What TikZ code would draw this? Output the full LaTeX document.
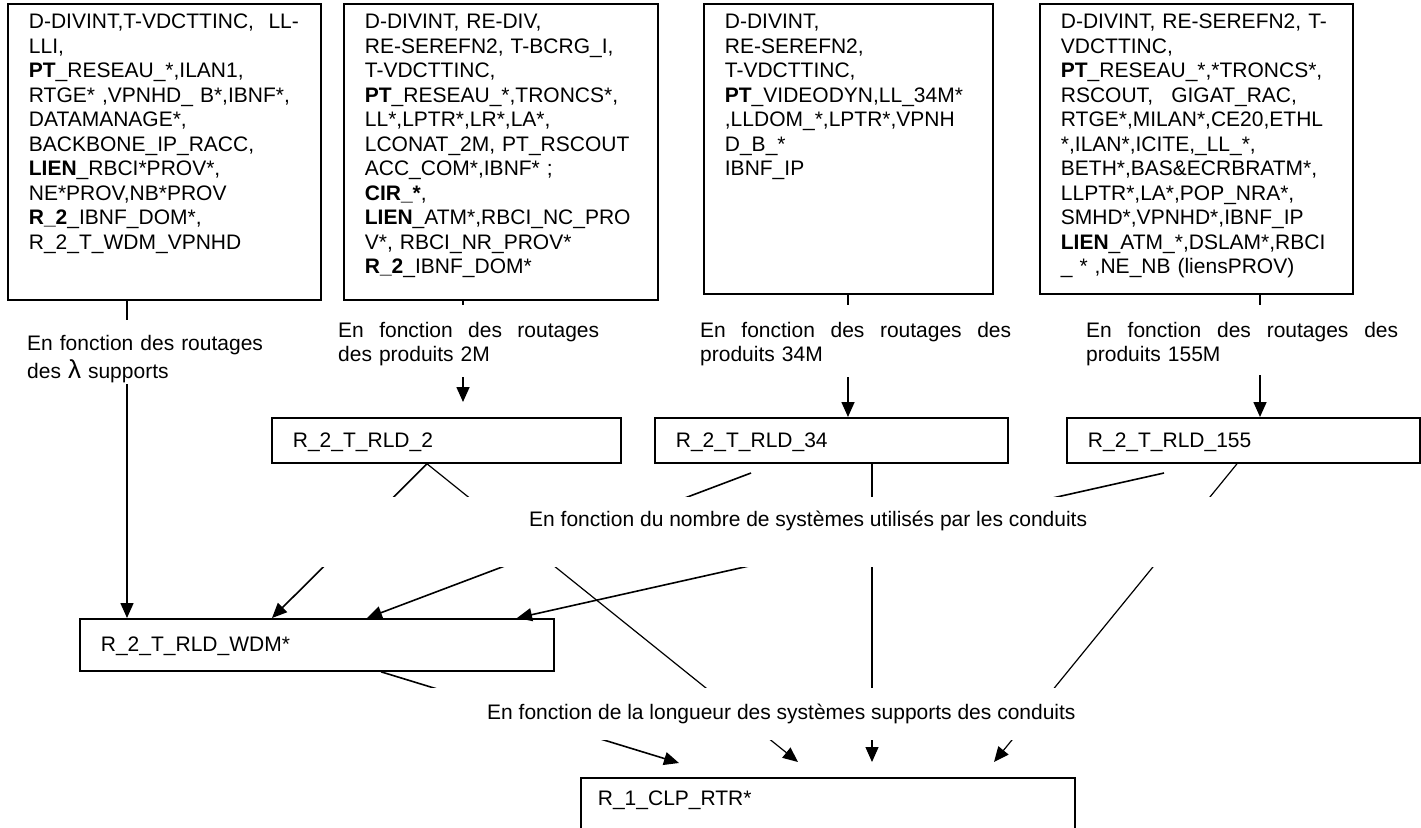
\documentclass[tikz,border=0pt]{standalone}
\usepackage{fontspec}
\setmainfont{Liberation Sans}
\usetikzlibrary{arrows.meta}
\begin{document}
\begin{tikzpicture}[x=1pt,y=-1pt,
  every node/.style={font=\fontsize{21}{24.5}\selectfont},
  topbox/.style={draw, line width=1.8pt, anchor=north west, inner xsep=21pt, inner ysep=0pt, align=left, text height=25pt},
  smallbox/.style={draw, line width=1.8pt, anchor=north west, inner xsep=21pt, inner ysep=0pt, align=left},
  arr/.style={line width=1.6pt, -{Triangle[length=15pt,width=13pt]}},
  thinarr/.style={line width=1.2pt, -{Triangle[length=15pt,width=13pt]}},
  lbl/.style={anchor=base west, inner sep=0pt, align=left},
  mask/.style={fill=white}
]
\useasboundingbox (0,0) rectangle (1421,827);
\clip (0,0) rectangle (1421,827);

% ---- top boxes
\node[topbox, text width=271pt, text depth=271pt] (box1) at (7,3) {%
\leavevmode\hbox to 270pt{D-DIVINT,T-VDCTTINC,\hfill LL-}\\
\mbox{LLI,}\\
\mbox{\textbf{PT}\_RESEAU\_*,ILAN1,}\\
\mbox{RTGE* ,VPNHD\_ B*,IBNF*,}\\
\mbox{DATAMANAGE*,}\\
\mbox{BACKBONE\_IP\_RACC,}\\
\mbox{\textbf{LIEN}\_RBCI*PROV*,}\\
\mbox{NE*PROV,NB*PROV}\\
\mbox{\textbf{R\_2}\_IBNF\_DOM*,}\\
\mbox{R\_2\_T\_WDM\_VPNHD}};

\node[topbox, text width=272pt, text depth=271pt] (box2) at (343,3) {%
\mbox{D-DIVINT, RE-DIV,}\\
\mbox{RE-SEREFN2, T-BCRG\_I,}\\
\mbox{T-VDCTTINC,}\\
\mbox{\textbf{PT}\_RESEAU\_*,TRONCS*,}\\
\mbox{LL*,LPTR*,LR*,LA*,}\\
\mbox{LCONAT\_2M, PT\_RSCOUT}\\
\mbox{ACC\_COM*,IBNF* ;}\\
\mbox{\textbf{CIR\_*},}\\
\mbox{\textbf{LIEN}\_ATM*,RBCI\_NC\_PRO}\\
\mbox{V*, RBCI\_NR\_PROV*}\\
\mbox{\textbf{R\_2}\_IBNF\_DOM*}};

\node[topbox, text width=247pt, text depth=265pt] (box3) at (703,3) {%
\mbox{D-DIVINT,}\\
\mbox{RE-SEREFN2,}\\
\mbox{T-VDCTTINC,}\\
\mbox{\textbf{PT}\_VIDEODYN,LL\_34M*}\\
\mbox{,LLDOM\_*,LPTR*,VPNH}\\
\mbox{D\_B\_*}\\
\mbox{IBNF\_IP}};

\node[topbox, text width=271pt, text depth=265pt] (box4) at (1039,3) {%
\mbox{D-DIVINT, RE-SEREFN2, T-}\\
\mbox{VDCTTINC,}\\
\mbox{\textbf{PT}\_RESEAU\_*,*TRONCS*,}\\
\leavevmode\hbox to 236pt{RSCOUT,\hfill GIGAT\_RAC,}\\
\mbox{RTGE*,MILAN*,CE20,ETHL}\\
\mbox{*,ILAN*,ICITE,\_LL\_*,}\\
\mbox{BETH*,BAS\&ECRBRATM*,}\\
\mbox{LLPTR*,LA*,POP\_NRA*,}\\
\mbox{SMHD*,VPNHD*,IBNF\_IP}\\
\mbox{\textbf{LIEN}\_ATM\_*,DSLAM*,RBCI}\\
\mbox{\_ * ,NE\_NB (liensPROV)}};

% ---- middle boxes
\node[smallbox, text width=307pt, text height=30pt, text depth=15pt] (rld2) at (271,417) {R\_2\_T\_RLD\_2};
\node[smallbox, text width=311pt, text height=30pt, text depth=15pt] (rld34) at (654,417) {R\_2\_T\_RLD\_34};
\node[smallbox, text width=311pt, text height=30pt, text depth=15pt] (rld155) at (1066,417) {R\_2\_T\_RLD\_155};
\node[smallbox, text width=432pt, text height=33pt, text depth=19pt] (wdm) at (79,618) {R\_2\_T\_RLD\_WDM*};
\node[smallbox, inner xsep=17pt, text width=460pt, text height=28pt, text depth=30pt] (r1) at (580,777) {R\_1\_CLP\_RTR*};

% ---- free ends
\coordinate (e2) at (463,402);
\coordinate (s34) at (751,473);
\coordinate (s155) at (1164,473);
\coordinate (t0) at (679,763);
\coordinate (t1) at (798,762);
\coordinate (t2) at (872,762);
\coordinate (t3) at (994,762);

% ---- connectors
\draw[arr] ([xshift=120pt]box1.south west) -- ([xshift=48pt]wdm.north west);
\draw[arr] ([xshift=120pt]box2.south west) -- (e2);
\draw[arr] ([xshift=145pt]box3.south west) -- ([xshift=194pt]rld34.north west);
\draw[arr] ([xshift=221pt]box4.south west) -- ([xshift=194pt]rld155.north west);
\draw[arr] ([xshift=156pt]rld2.south west) -- ([xshift=193pt]wdm.north west);
\draw[thinarr] ([xshift=156pt]rld2.south west) -- (t1);
\draw[arr] (s34) -- ([xshift=288pt]wdm.north west);
\draw[thinarr] ([xshift=218pt]rld34.south west) -- (t2);
\draw[arr] (s155) -- ([xshift=438pt]wdm.north west);
\draw[thinarr] ([xshift=171pt]rld155.south west) -- (t3);
\draw[arr] ([xshift=302pt]wdm.south west) -- (t0);

% ---- white label areas
\fill[mask] (20,320) rectangle (268,384);
\fill[mask] (335,305) rectangle (605,377);
\fill[mask] (695,305) rectangle (1016,377);
\fill[mask] (1080,305) rectangle (1405,375);
\fill[mask] (300,497) rectangle (1228,567);
\fill[mask] (420,688) rectangle (1100,740);

% ---- labels
\node[lbl, text width=250pt] (l1) at (27,350) {En fonction des routages\\[4pt]des {\fontsize{26}{26}\selectfont λ} supports};
\node[lbl, text width=265pt] (l2) at (338,337) {\leavevmode\hbox to 261pt{En\hfill fonction\hfill des\hfill routages}\\des produits 2M};
\node[lbl, text width=315pt] (l3) at (700,337) {\leavevmode\hbox to 311pt{En\hfill fonction\hfill des\hfill routages\hfill des}\\produits 34M};
\node[lbl, text width=315pt] (l4) at (1086,337) {\leavevmode\hbox to 312pt{En\hfill fonction\hfill des\hfill routages\hfill des}\\produits 155M};
\node[lbl] (l5) at (529,526) {En fonction du nombre de systèmes utilisés par les conduits};
\node[lbl] (l6) at (487,719) {En fonction de la longueur des systèmes supports des conduits};
\end{tikzpicture}
\end{document}
